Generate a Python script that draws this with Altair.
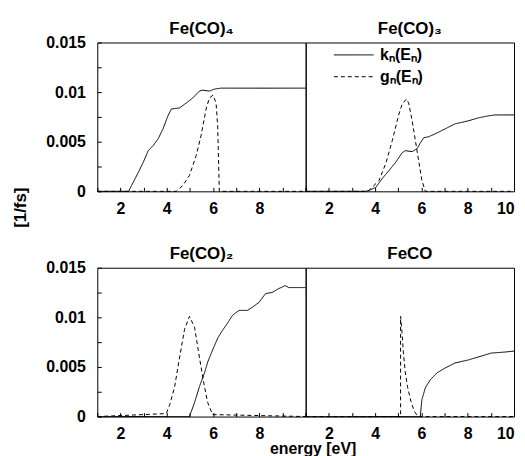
import altair as alt
import pandas as pd

FONT = "Liberation Sans"

panel_titles = ["Fe(CO)₄", "Fe(CO)₃", "Fe(CO)₂", "FeCO"]
series_names = ["kₙ(Eₙ)", "gₙ(Eₙ)"]
x_ticks = [1, 2, 3, 4, 5, 6, 7, 8, 9, 10]
y_ticks = [0, 0.0025, 0.005, 0.0075, 0.01, 0.0125, 0.015]

# Fe(CO)4
k4_x = [1, 2.35, 2.55, 2.77, 2.98, 3.2, 3.41, 3.63, 3.84, 4.05, 4.2, 4.55, 4.84, 5.12, 5.41, 5.55, 5.84, 6.05, 6.34, 10]
k4_y = [0, 0, 0.0009, 0.0019, 0.0029, 0.0041, 0.0046, 0.0053, 0.0063, 0.0076, 0.0083, 0.0084, 0.0089, 0.0094, 0.0101, 0.0102, 0.0101, 0.0103, 0.0104, 0.0104]
g4_x = [1, 4.41, 4.7, 4.98, 5.27, 5.48, 5.7, 5.84, 6.0, 6.13, 6.2, 6.27, 10]
g4_y = [0, 0, 0.0006, 0.0016, 0.0036, 0.0056, 0.0083, 0.0094, 0.0097, 0.0089, 0.0066, 0, 0]

# Fe(CO)3
k3_x = [1, 3.6, 3.74, 4.03, 4.31, 4.6, 4.88, 5.17, 5.31, 5.6, 5.81, 5.96, 6.1, 6.31, 6.6, 7.03, 7.45, 8.02, 8.45, 8.88, 9.17, 10]
k3_y = [0, 0, 0.0001, 0.0004, 0.0013, 0.0021, 0.0029, 0.0039, 0.0041, 0.0040, 0.0043, 0.0049, 0.0054, 0.0055, 0.0058, 0.0063, 0.0068, 0.0071, 0.0074, 0.0076, 0.0077, 0.0077]
g3_x = [1, 3.6, 3.74, 4.17, 4.46, 4.74, 5.03, 5.17, 5.35, 5.45, 5.6, 5.74, 5.88, 6.02, 6.17, 10]
g3_y = [0, 0, 0.0001, 0.0011, 0.0028, 0.0051, 0.0078, 0.0088, 0.0093, 0.0089, 0.0071, 0.0051, 0.0031, 0.0011, 0, 0]

# Fe(CO)2
k2_x = [1, 4.98, 5.2, 5.41, 5.63, 5.77, 5.98, 6.2, 6.41, 6.62, 6.84, 7.12, 7.48, 7.69, 7.98, 8.27, 8.55, 8.84, 9.12, 9.27, 10]
k2_y = [0, 0, 0.0014, 0.003, 0.0044, 0.0055, 0.0067, 0.0079, 0.0087, 0.0094, 0.0102, 0.0107, 0.0107, 0.011, 0.0115, 0.0124, 0.0125, 0.0129, 0.0132, 0.013, 0.013]
g2_x = [1, 3.98, 4.13, 4.34, 4.55, 4.77, 4.98, 5.2, 5.34, 5.48, 5.63, 5.77, 5.98, 10]
g2_y = [0, 0.0003, 0.0012, 0.003, 0.0059, 0.0088, 0.0101, 0.009, 0.007, 0.005, 0.003, 0.0014, 0.0002, 0]

# FeCO
k1_x = [1, 5.95, 6.02, 6.17, 6.38, 6.67, 7.03, 7.45, 8.02, 8.45, 9.02, 9.6, 10]
k1_y = [0, 0, 0.0017, 0.0029, 0.0037, 0.0044, 0.0049, 0.0054, 0.0057, 0.006, 0.0064, 0.0065, 0.0066]
g1_x = [1, 5.1, 5.1, 5.16, 5.22, 5.3, 5.4, 5.55, 5.7, 5.85, 10]
g1_y = [0, 0, 0.0101, 0.0085, 0.0065, 0.0045, 0.003, 0.0015, 0.0005, 0, 0]

Y_LABELS = "abs(datum.value*200 - round(datum.value*200)) < 0.001 ? datum.label : ''"


def make_df(kx, ky, gx, gy):
    rows = []
    for i, (x, y) in enumerate(zip(kx, ky)):
        rows.append({"x": x, "y": y, "s": series_names[0], "i": i})
    for i, (x, y) in enumerate(zip(gx, gy)):
        rows.append({"x": x, "y": y, "s": series_names[1], "i": i})
    return pd.DataFrame(rows)


def panel(df, title, left, bottom_title, legend, ytitle):
    if left:
        xlab = "datum.value % 2 == 0 && datum.value < 10 ? datum.label : ''"
    else:
        xlab = "datum.value % 2 == 0 ? datum.label : ''"
    xaxis_kw = dict(values=x_ticks, labelExpr=xlab, tickSize=4, offset=-4,
                    domain=False, grid=False, labelPadding=9)
    if bottom_title:
        xaxis_kw.update(title="energy [eV]", titleX=7, titleY=41, titleFontSize=16,
                        titleBaseline="alphabetic", titleAlign="center", titleAngle=0)
    else:
        xaxis_kw.update(title=None)
    x = alt.X("x:Q", scale=alt.Scale(domain=[1, 10], nice=False, zero=False),
              axis=alt.Axis(**xaxis_kw))
    yaxis_kw = dict(values=y_ticks, format="~g", labelExpr=Y_LABELS,
                    tickSize=4, offset=-4, domain=False, grid=False, labelPadding=12)
    if not left:
        # invisible labels keep the panel bounds (and so the title height) equal
        yaxis_kw.update(ticks=False, labelOpacity=0)
    if ytitle:
        yaxis_kw.update(title="[1/fs]", titleX=-81, titleY=166, titleAngle=270,
                        titleBaseline="middle", titleAlign="center")
    else:
        yaxis_kw.update(title=None)
    y = alt.Y("y:Q", scale=alt.Scale(domain=[0, 0.015], nice=False, zero=False),
              axis=alt.Axis(**yaxis_kw))
    if legend:
        leg = alt.Legend(orient="none", legendX=38, legendY=2, symbolType="M-2,0H2",
                         symbolSize=400, symbolStrokeWidth=1, symbolStrokeColor="black",
                         labelFont=FONT, labelFontSize=16, labelFontWeight="bold",
                         labelColor="black", labelOffset=16, rowPadding=3, title=None,
                         padding=0, labelLimit=200)
    else:
        leg = None
    dash = alt.StrokeDash("s:N", scale=alt.Scale(domain=series_names, range=[[1, 0], [4, 3]]),
                          legend=leg)
    return alt.Chart(df, title=alt.Title(title)).mark_line(
        color="black", strokeWidth=1
    ).encode(x=x, y=y, strokeDash=dash, order="i:Q").properties(width=210, height=150)


p1 = panel(make_df(k4_x, k4_y, g4_x, g4_y), panel_titles[0], True, False, False, True)
p2 = panel(make_df(k3_x, k3_y, g3_x, g3_y), panel_titles[1], False, False, True, False)
p3 = panel(make_df(k2_x, k2_y, g2_x, g2_y), panel_titles[2], True, False, False, False)
p4 = panel(make_df(k1_x, k1_y, g1_x, g1_y), panel_titles[3], False, True, False, False)

chart = alt.concat(p1, p2, p3, p4, columns=2, spacing={"row": 77, "column": 0},
                   bounds="flush").resolve_scale(strokeDash="independent").properties(
    padding={"left": 3, "top": 9, "right": 0, "bottom": 0}
).configure_view(stroke="black", strokeWidth=1).configure_axis(
    labelFont=FONT, labelFontSize=16, labelFontWeight="bold", labelColor="black",
    tickColor="black", tickWidth=1, titleFont=FONT, titleFontSize=17,
    titleFontWeight="bold", titleColor="black"
).configure_title(font=FONT, fontSize=17, fontWeight="bold", color="black",
                  anchor="middle", offset=-3, baseline="alphabetic")

chart.save("out.html", embed_options={"renderer": "svg", "actions": False})
